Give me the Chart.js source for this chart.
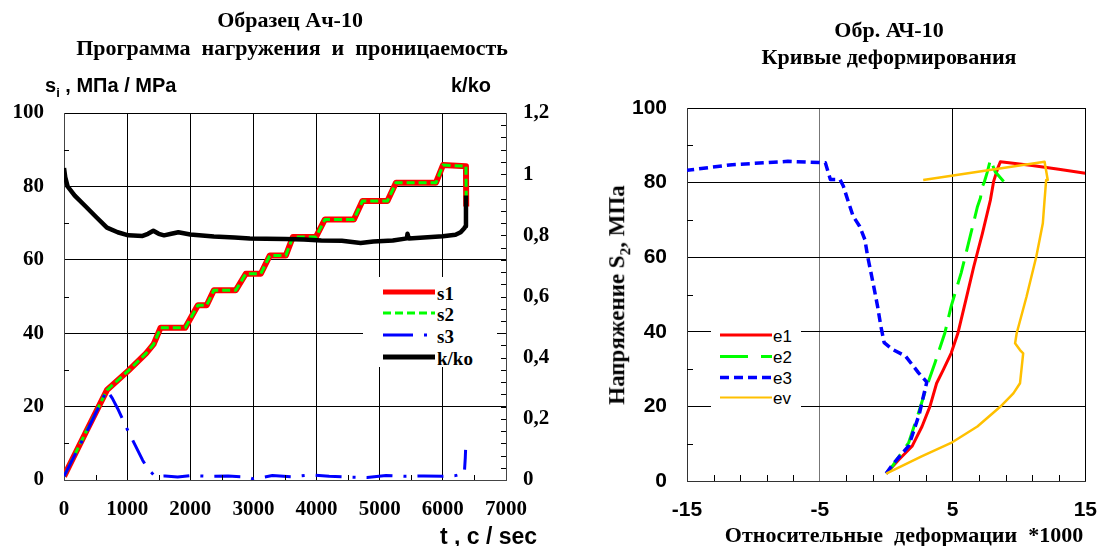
<!DOCTYPE html>
<html>
<head>
<meta charset="utf-8">
<script src="https://cdn.jsdelivr.net/npm/chart.js@4.4.1/dist/chart.umd.min.js"></script>
<style>
  body { margin: 0; background: #fff; }
  #wrap { position: relative; width: 1114px; height: 546px; overflow: hidden; background: #fff; }
  canvas { position: absolute; top: 0; }
  .txt { position: absolute; white-space: pre; color: #000; line-height: 1; }
  .serif { font-family: "Liberation Serif", "Times New Roman", serif; font-weight: bold; }
  .sans { font-family: "Liberation Sans", Arial, sans-serif; font-weight: bold; }
  .ctr { transform: translate(-50%, -50%); }
  svg.legend { position: absolute; z-index: 5; }
</style>
</head>
<body>
<div id="wrap">
  <canvas id="loadChart" width="557" height="546" style="left:0"></canvas>
  <canvas id="strainChart" width="557" height="546" style="left:557px"></canvas>

  <!-- left panel texts -->
  <div class="txt serif ctr" style="left:290px;top:20px;font-size:22px;">Образец Ач-10</div>
  <div class="txt serif ctr" style="left:292px;top:48px;font-size:22px;">Программа  нагружения  и  проницаемость</div>
  <div class="txt sans" style="left:45px;top:75px;font-size:20px;">s<sub style="font-size:13px;">i</sub> , МПа / MPa</div>
  <div class="txt sans" style="left:451px;top:75px;font-size:20px;">k/ko</div>
  <div class="txt sans" style="left:440px;top:525px;font-size:23px;">t , c / sec</div>

  <!-- right panel texts -->
  <div class="txt serif ctr" style="left:889px;top:30px;font-size:22px;">Обр. АЧ-10</div>
  <div class="txt serif ctr" style="left:889px;top:57px;font-size:22px;">Кривые деформирования</div>
  <div class="txt serif ctr" style="left:904px;top:535px;font-size:22px;">Относительные  деформации  *1000</div>
  <div class="txt serif" style="left:619px;top:295px;font-size:23px;transform:translate(-50%,-50%) rotate(-90deg);">Напряжение S<sub style="font-size:15px;">2</sub>, МПа</div>

  <!-- legend: loading program -->
  <svg class="legend" style="left:363px;top:277px;" width="134" height="90">
    <rect x="0" y="0" width="134" height="90" fill="#fff"/>
    <line x1="20" y1="15" x2="72" y2="15" stroke="#ff0000" stroke-width="5"/>
    <line x1="20" y1="36" x2="72" y2="36" stroke="#00ff00" stroke-width="3" stroke-dasharray="8 4"/>
    <line x1="20" y1="58" x2="72" y2="58" stroke="#0000ff" stroke-width="3" stroke-dasharray="30 11 3 11"/>
    <line x1="20" y1="80" x2="72" y2="80" stroke="#000" stroke-width="5"/>
    <g font-family="Liberation Serif, Times New Roman, serif" font-weight="bold" font-size="19" fill="#000" dominant-baseline="central">
      <text x="74" y="16">s1</text>
      <text x="74" y="37">s2</text>
      <text x="74" y="59">s3</text>
      <text x="74" y="81">k/ko</text>
    </g>
  </svg>

  <!-- legend: strain curves -->
  <svg class="legend" style="left:711px;top:318px;" width="90" height="94">
    <rect x="0" y="0" width="90" height="94" fill="#fff"/>
    <line x1="9" y1="17" x2="61" y2="17" stroke="#ff0000" stroke-width="3"/>
    <line x1="9" y1="38.5" x2="61" y2="38.5" stroke="#00ff00" stroke-width="3" stroke-dasharray="28 13"/>
    <line x1="9" y1="59.5" x2="61" y2="59.5" stroke="#0000ff" stroke-width="3.5" stroke-dasharray="9 5"/>
    <line x1="9" y1="79.5" x2="61" y2="79.5" stroke="#ffc000" stroke-width="2"/>
    <g font-family="Liberation Sans, Arial, sans-serif" font-size="17" fill="#000" dominant-baseline="central">
      <text x="62" y="18">e1</text>
      <text x="62" y="39.5">e2</text>
      <text x="62" y="60.5">e3</text>
      <text x="62" y="80.5">ev</text>
    </g>
  </svg>
</div>

<script>
// ---- Loading program and permeability (time in s) ----
const tLoad  = [0, 340, 680, 1020, 1300, 1420, 1530, 1920, 2120, 2260, 2373, 2721, 2879, 3117, 3260, 3514, 3624, 3989, 4132, 4591, 4726, 5122, 5257, 5891, 6002, 6366, 6370];
const s1Vals = [1, 12.8, 24.5, 29.8, 34.5, 37, 41.5, 41.5, 47.6, 47.6, 51.7, 51.7, 56.2, 56.2, 61.2, 61.2, 66.2, 66.2, 71, 71, 76, 76, 81, 81, 85.8, 85.5, 74.5];
const s2Vals = [1, 12.8, 24.5, 29.8, 34.5, 37, 41.5, 41.5, 47.6, 47.6, 51.7, 51.7, 56.2, 56.2, 61.2, 61.2, 66.2, 66.2, 71, 71, 76, 76, 81, 81, 85.8, 85.5, 77];

const tS3    = [0, 340, 680, 764, 849, 1019, 1245, 1330, 1443, 1600, 1800, 2000, 2300, 2600, 2900, 3000, 3300, 3600, 3900, 4200, 4500, 4800, 5100, 5400, 5700, 6000, 6200, 6340, 6355, 6360];
const s3Vals = [1, 12.5, 24.5, 22.3, 19.5, 13.2, 5.4, 3, 1.0, 1.1, 0.8, 1.2, 1.0, 1.1, 0.8, 0.3, 1.2, 0.9, 1.4, 1.0, 0.8, 0.7, 1.2, 1.0, 1.1, 1.0, 1.2, 1.8, 6, 8.2];

const tK     = [0, 20, 57, 170, 340, 509, 680, 850, 1019, 1245, 1330, 1415, 1500, 1585, 1700, 1811, 2000, 2373, 2700, 2943, 3200, 3509, 3800, 4075, 4400, 4697, 4900, 5208, 5431, 5440, 5460, 5700, 6000, 6200, 6282, 6339, 6360, 6366];
const kVals  = [1.02, 0.99, 0.96, 0.93, 0.895, 0.86, 0.825, 0.81, 0.80, 0.798, 0.805, 0.815, 0.805, 0.80, 0.805, 0.81, 0.803, 0.796, 0.793, 0.79, 0.789, 0.788, 0.786, 0.783, 0.782, 0.775, 0.78, 0.783, 0.79, 0.805, 0.79, 0.793, 0.797, 0.802, 0.81, 0.823, 0.83, 0.93];

const timeTicks = [0, 1000, 2000, 3000, 4000, 5000, 6000, 7000];
const stressTicks = [0, 20, 40, 60, 80, 100];
const permTicks = [0, 0.2, 0.4, 0.6, 0.8, 1, 1.2];

// ---- Deformation curves: strain *1000 vs stress S2 (MPa) ----
const e1Strain = [0, 0.95, 1.95, 2.7, 3.3, 3.8, 4.3, 4.9, 5.4, 6.0, 6.6, 7.25, 7.85, 8.1, 8.4, 8.6, 11, 13, 15];
const e1Stress = [2, 5.7, 9.3, 14.6, 20, 26.2, 29.8, 34.3, 39.6, 48.5, 57.5, 66.4, 75.3, 80.4, 83.8, 85.6, 84.6, 83.6, 82.5];

const e2Strain = [0, 0.47, 1.7, 2.44, 3.06, 3.68, 4.42, 4.9, 5.65, 6.39, 6.88, 7.1, 7.25, 7.37, 7.6, 7.86, 8.2, 8.85];
const e2Stress = [2, 4, 10.3, 18.3, 25.4, 31.7, 39.7, 46.9, 55.8, 66.5, 73.6, 75.9, 79, 79.9, 82.6, 86.2, 83, 80.3];

const e3Strain = [0, 0.5, 1.7, 2.5, 2.93, 3.06, 2.44, 1.45, 0.47, -0.15, -0.4, -0.65, -0.89, -1.14, -1.4, -1.6, -2.0, -2.49, -2.98, -3.22, -3.47, -4.2, -4.58, -7.4, -11.6, -15];
const e3Stress = [2, 4.5, 9.4, 18, 24.6, 26.5, 29, 33.5, 35.3, 37.1, 41.5, 46.9, 51.3, 55.8, 60.3, 64.7, 68.3, 71, 76.3, 79, 80.8, 80.8, 85.3, 85.7, 84.8, 83.3];

const evStrain = [0, 2.67, 4.89, 6.87, 8.59, 9.58, 10.08, 10.32, 10.08, 9.71, 9.83, 10.57, 11.31, 11.8, 11.93, 12.05, 12.17, 11.93, 2.79];
const evStress = [2, 6.6, 10.2, 14.6, 19.9, 23.5, 26.2, 34.2, 35.1, 36.9, 39.6, 49.4, 60.2, 69.1, 75.3, 80.7, 80.7, 85.6, 80.7];

const strainTicks = [-15, -5, 5, 15];

const pairs = (xs, ys) => xs.map((x, i) => ({ x, y: ys[i] }));

const serifBold = size => ({ family: '"Liberation Serif", "Times New Roman", serif', size, weight: 'bold' });
const sansBold = size => ({ family: '"Liberation Sans", Arial, sans-serif', size, weight: 'bold' });

// short inward tick marks between the labelled ones
const minorTicks = {
  id: 'minorTicks',
  afterDatasetsDraw(chart, args, opts) {
    const { ctx, chartArea: a } = chart;
    ctx.save();
    ctx.strokeStyle = '#000';
    ctx.lineWidth = 1;
    (opts.marks || []).forEach(m => {
      const sc = chart.scales[m.axis];
      m.values.forEach(v => {
        const p = Math.round(sc.getPixelForValue(v)) + 0.5;
        ctx.beginPath();
        if (m.side === 'left') { ctx.moveTo(a.left, p); ctx.lineTo(a.left + m.len, p); }
        if (m.side === 'right') { ctx.moveTo(a.right, p); ctx.lineTo(a.right - m.len, p); }
        if (m.side === 'bottom') { ctx.moveTo(p, a.bottom); ctx.lineTo(p, a.bottom - m.len); }
        ctx.stroke();
      });
    });
    ctx.restore();
  }
};

const range = (from, to, step) => { const r = []; for (let v = from; v <= to + 1e-9; v += step) r.push(+v.toFixed(4)); return r; };

const fixedTicks = list => scale => { scale.ticks = list.map(v => ({ value: v })); };
const plainNumber = v => String(v);

Chart.defaults.animation = false;
Chart.defaults.devicePixelRatio = 1;

new Chart(document.getElementById('loadChart'), {
  type: 'line',
  data: {
    datasets: [
      { label: 's1', data: pairs(tLoad, s1Vals), yAxisID: 'y', borderColor: '#ff0000', borderWidth: 6, order: 3 },
      { label: 's2', data: pairs(tLoad, s2Vals), yAxisID: 'y', borderColor: '#00ff00', borderWidth: 3, borderDash: [8, 4], order: 2 },
      { label: 's3', data: pairs(tS3, s3Vals), yAxisID: 'y', borderColor: '#0000ff', borderWidth: 3, borderDash: [26, 11, 3, 11], order: 1 },
      { label: 'k/ko', data: pairs(tK, kVals), yAxisID: 'y1', borderColor: '#000000', borderWidth: 4.5, order: 0 }
    ]
  },
  options: {
    responsive: false,
    layout: { padding: { top: 113, left: 0, right: 0, bottom: 0 } },
    elements: { point: { radius: 0 }, line: { tension: 0, borderCapStyle: 'butt', borderJoinStyle: 'round' } },
    plugins: {
      legend: { display: false }, tooltip: { enabled: false },
      minorTicks: { marks: [
        { axis: 'y', side: 'left', len: 5, values: [10, 30, 50, 70, 90] },
        { axis: 'y1', side: 'right', len: 5, values: range(0.04, 1.16, 0.04) },
        { axis: 'x', side: 'bottom', len: 5, values: [500, 1500, 2500, 3500, 4500, 5500, 6500] }
      ] }
    },
    scales: {
      x: {
        type: 'linear', min: 0, max: 7000,
        afterBuildTicks: fixedTicks(timeTicks),
        afterFit: s => { s.height = 66; },
        ticks: { font: serifBold(21), color: '#000', padding: 17, maxRotation: 0, autoSkip: false, callback: plainNumber },
        grid: { color: '#000', lineWidth: 1, drawTicks: false },
        border: { color: '#444', width: 1 }
      },
      y: {
        type: 'linear', position: 'left', min: 0, max: 100,
        afterBuildTicks: fixedTicks(stressTicks),
        afterFit: s => { s.width = 64; },
        ticks: { font: serifBold(21), color: '#000', padding: 20, callback: plainNumber },
        grid: { color: '#000', lineWidth: 1, drawTicks: false },
        border: { color: '#444', width: 1 }
      },
      y1: {
        type: 'linear', position: 'right', min: 0, max: 1.2,
        afterBuildTicks: fixedTicks(permTicks),
        afterFit: s => { s.width = 51; },
        ticks: { font: serifBold(21), color: '#000', padding: 17,
                 callback: v => String(Math.round(v * 10) / 10).replace('.', ',') },
        grid: { display: false, drawTicks: false },
        border: { color: '#444', width: 1 }
      }
    }
  },
  plugins: [minorTicks]
});

new Chart(document.getElementById('strainChart'), {
  type: 'line',
  data: {
    datasets: [
      { label: 'e1', data: pairs(e1Strain, e1Stress), borderColor: '#ff0000', borderWidth: 3, order: 3 },
      { label: 'e2', data: pairs(e2Strain, e2Stress), borderColor: '#00ff00', borderWidth: 3, borderDash: [24, 10], order: 2 },
      { label: 'e3', data: pairs(e3Strain, e3Stress), borderColor: '#0000ff', borderWidth: 3.5, borderDash: [9, 5], order: 1 },
      { label: 'ev', data: pairs(evStrain, evStress), borderColor: '#ffc000', borderWidth: 2.5, order: 0 }
    ]
  },
  options: {
    responsive: false,
    layout: { padding: { top: 108, left: 0, right: 13, bottom: 0 } },
    elements: { point: { radius: 0 }, line: { tension: 0, borderCapStyle: 'butt', borderJoinStyle: 'round' } },
    plugins: {
      legend: { display: false }, tooltip: { enabled: false },
      minorTicks: { marks: [
        { axis: 'y', side: 'left', len: 6, values: [10, 30, 50, 70, 90] },
        { axis: 'x', side: 'bottom', len: 6, values: [-13, -11, -9, -7, -3, -1, 1, 3, 7, 9, 11, 13] }
      ] }
    },
    scales: {
      x: {
        type: 'linear', min: -15, max: 15,
        afterBuildTicks: fixedTicks(strainTicks),
        afterFit: s => { s.height = 65; },
        ticks: { font: sansBold(21), color: '#000', padding: 17, maxRotation: 0, autoSkip: false, callback: plainNumber },
        grid: { color: c => (c.tick && c.tick.value === -5 ? '#777' : '#000'), lineWidth: 1, drawTicks: false },
        border: { color: '#333', width: 1 }
      },
      y: {
        type: 'linear', position: 'left', min: 0, max: 100,
        afterBuildTicks: fixedTicks(stressTicks),
        afterFit: s => { s.width = 130; },
        ticks: { font: sansBold(21), color: '#000', padding: 20, callback: plainNumber },
        grid: { color: '#000', lineWidth: 1, drawTicks: false },
        border: { color: '#333', width: 1 }
      }
    }
  },
  plugins: [minorTicks]
});
</script>
</body>
</html>
